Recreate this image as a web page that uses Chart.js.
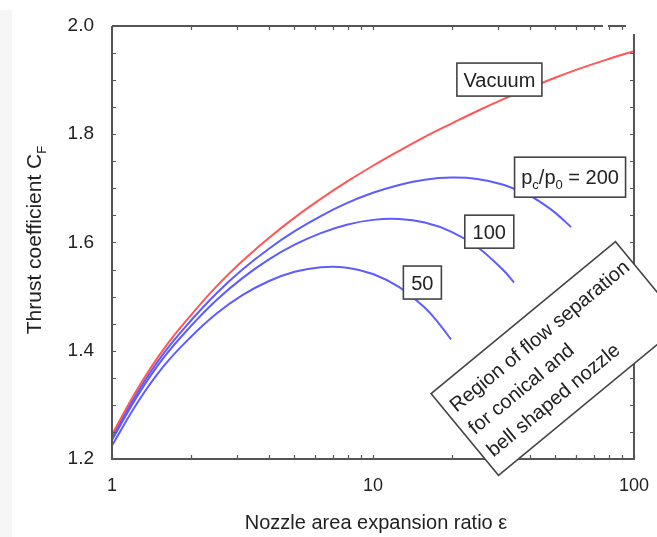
<!DOCTYPE html>
<html>
<head>
<meta charset="utf-8">
<title>Thrust coefficient vs expansion ratio</title>
<script src="https://cdn.jsdelivr.net/npm/chart.js@4.4.1/dist/chart.umd.min.js"></script>
<style>
  html, body { margin: 0; padding: 0; background: #fff; }
  canvas { display: block; }
</style>
</head>
<body>
<canvas id="thrustChart" width="657" height="537"></canvas>
<script>
// expansion ratio / thrust coefficient for each curve
const epsVacuum = [1, 1.26, 1.58, 2, 2.51, 3.16, 3.98, 5.01, 6.31, 7.94, 10, 12.6, 15.8, 20, 25.1, 31.6, 39.8, 50.1, 63.1, 79.4, 100];
const cfVacuum  = [1.245, 1.3315, 1.4035, 1.465, 1.5185, 1.5658, 1.608, 1.646, 1.6805, 1.7123, 1.7418, 1.7694, 1.7953, 1.8198, 1.843, 1.8649, 1.8855, 1.9049, 1.9226, 1.9386, 1.9536];

const eps200 = [1, 1.26, 1.58, 2, 2.51, 3.16, 3.98, 5.01, 6.31, 7.94, 10, 12.6, 15.8, 20, 25.1, 31.6, 39.8, 45, 50.1, 57.4];
const cf200  = [1.24, 1.3252, 1.3956, 1.455, 1.5059, 1.55, 1.5881, 1.6209, 1.6489, 1.6726, 1.6918, 1.7064, 1.7161, 1.72, 1.7174, 1.7068, 1.6865, 1.6708, 1.6543, 1.6285];

const eps100 = [1, 1.26, 1.58, 2, 2.51, 3.16, 3.98, 5.01, 6.31, 7.94, 10, 12.6, 15.8, 20, 25.1, 31.6, 34.7];
const cf100  = [1.235, 1.3189, 1.3877, 1.445, 1.4934, 1.5342, 1.5682, 1.5959, 1.6174, 1.6329, 1.6418, 1.6434, 1.6368, 1.6198, 1.5918, 1.5487, 1.5261];

const eps50 = [1, 1.26, 1.58, 2, 2.51, 3.16, 3.98, 5.01, 6.31, 7.94, 10, 12.6, 15.8, 17.8, 19.9];
const cf50  = [1.225, 1.3063, 1.3719, 1.425, 1.4683, 1.5026, 1.5284, 1.5458, 1.5543, 1.5535, 1.5418, 1.5174, 1.4793, 1.4516, 1.421];

const xTickValues = [1, 10, 100];
const xMinorTicks = [2, 3, 4, 5, 6, 7, 8, 9, 20, 30, 40, 50, 60, 70, 80, 90];
const yTickValues = [1.2, 1.4, 1.6, 1.8, 2.0];
const yMinorTicks = [1.25, 1.3, 1.35, 1.45, 1.5, 1.55, 1.65, 1.7, 1.75, 1.85, 1.9, 1.95];

const FONT = '"Liberation Sans", Arial, Helvetica, sans-serif';

function pts(xs, ys) {
  return xs.map((x, i) => ({ x: x, y: ys[i] }));
}

// boxed curve labels, placed in data coordinates
const curveLabels = [
  { parts: [['Vacuum', 0]], eps: 30.5, cf: 1.901, w: 85, h: 33 },
  { parts: [['p', 0], ['c', 1], ['/p', 0], ['0', 1], [' = 200', 0]], eps: 56.9, cf: 1.7207, w: 111, h: 40 },
  { parts: [['100', 0]], eps: 27.9, cf: 1.620, w: 49, h: 33 },
  { parts: [['50', 0]], eps: 15.46, cf: 1.526, w: 38, h: 33 }
];

function partsWidth(ctx, parts, size) {
  let w = 0;
  parts.forEach(p => {
    ctx.font = (p[1] ? '13px ' : size + 'px ') + FONT;
    w += ctx.measureText(p[0]).width;
  });
  return w;
}

function drawParts(ctx, parts, x, y, size) {
  parts.forEach(p => {
    ctx.font = (p[1] ? '13px ' : size + 'px ') + FONT;
    ctx.fillText(p[0], x, p[1] ? y + 5 : y);
    x += ctx.measureText(p[0]).width;
  });
}

const framePlugin = {
  id: 'frame',
  beforeDraw(chart) {
    const ctx = chart.ctx;
    ctx.save();
    ctx.fillStyle = '#fff';
    ctx.fillRect(0, 0, chart.width, chart.height);
    ctx.fillStyle = '#f6f6f6';
    ctx.fillRect(0, 10, 12, chart.height - 10);
    ctx.restore();
  },
  afterDatasetsDraw(chart) {
    const ctx = chart.ctx;
    const a = chart.chartArea;
    const xs = chart.scales.x, ys = chart.scales.y;
    ctx.save();
    ctx.strokeStyle = '#555';
    ctx.lineWidth = 2;
    ctx.beginPath();
    // left and bottom
    ctx.moveTo(a.left, a.top);
    ctx.lineTo(a.left, a.bottom);
    ctx.lineTo(a.right, a.bottom);
    // right side starts a little below the top
    ctx.lineTo(a.right, a.top + 8);
    // top edge, broken near the corner
    ctx.moveTo(a.left, a.top);
    ctx.lineTo(a.right - 31, a.top);
    ctx.moveTo(a.right - 26, a.top);
    ctx.lineTo(a.right - 8, a.top);
    ctx.stroke();

    ctx.lineWidth = 1.2;
    ctx.beginPath();
    xMinorTicks.concat(xTickValues).forEach(v => {
      const px = Math.round(xs.getPixelForValue(v)) + 0.5;
      ctx.moveTo(px, a.bottom);
      ctx.lineTo(px, a.bottom - 4);
      if (px < a.right - 8) {
        ctx.moveTo(px, a.top);
        ctx.lineTo(px, a.top + 4);
      }
    });
    yMinorTicks.concat(yTickValues).forEach(v => {
      const py = Math.round(ys.getPixelForValue(v)) + 0.5;
      ctx.moveTo(a.left, py);
      ctx.lineTo(a.left + 4, py);
      if (py > a.top + 8) {
        ctx.moveTo(a.right, py);
        ctx.lineTo(a.right - 4, py);
      }
    });
    ctx.stroke();
    ctx.restore();
  },
  afterDraw(chart) {
    const ctx = chart.ctx;
    const xs = chart.scales.x, ys = chart.scales.y;
    ctx.save();
    ctx.fillStyle = '#222';
    ctx.textBaseline = 'alphabetic';
    ctx.textAlign = 'left';

    // boxed labels on the curves
    curveLabels.forEach(l => {
      const cx = xs.getPixelForValue(l.eps);
      const cy = ys.getPixelForValue(l.cf);
      ctx.fillStyle = '#fff';
      ctx.fillRect(cx - l.w / 2, cy - l.h / 2, l.w, l.h);
      ctx.strokeStyle = '#444';
      ctx.lineWidth = 1.6;
      ctx.strokeRect(cx - l.w / 2, cy - l.h / 2, l.w, l.h);
      ctx.fillStyle = '#222';
      const tw = partsWidth(ctx, l.parts, 20);
      drawParts(ctx, l.parts, cx - tw / 2, cy + 7, 20);
    });

    // tilted note for the flow separation region
    ctx.save();
    ctx.translate(557, 358.5);
    ctx.rotate(-39.5 * Math.PI / 180);
    ctx.fillStyle = '#fff';
    ctx.fillRect(-119.5, -53, 239, 106);
    ctx.strokeStyle = '#444';
    ctx.lineWidth = 1.6;
    ctx.strokeRect(-119.5, -53, 239, 106);
    ctx.fillStyle = '#222';
    ctx.font = '20px ' + FONT;
    ['Region of flow separation', 'for conical and', 'bell shaped nozzle'].forEach((t, i) => {
      ctx.fillText(t, -112, -22 + i * 29);
    });
    ctx.restore();

    // axis titles
    ctx.fillStyle = '#222';
    ctx.font = '20px ' + FONT;
    ctx.textAlign = 'center';
    ctx.fillText('Nozzle area expansion ratio \u03b5', 376, 529);

    ctx.save();
    ctx.translate(41, 240);
    ctx.rotate(-Math.PI / 2);
    ctx.textAlign = 'left';
    const yParts = [['Thrust coefficient C', 0], ['F', 1]];
    drawParts(ctx, yParts, -partsWidth(ctx, yParts, 21) / 2, 0, 21);
    ctx.restore();
    ctx.restore();
  }
};

const lineStyle = {
  borderWidth: 2,
  pointRadius: 0,
  fill: false,
  tension: 0.4
};

new Chart(document.getElementById('thrustChart').getContext('2d'), {
  type: 'line',
  data: {
    datasets: [
      Object.assign({ label: 'Vacuum', data: pts(epsVacuum, cfVacuum), borderColor: '#ff5656' }, lineStyle),
      Object.assign({ label: 'pc/p0 = 200', data: pts(eps200, cf200), borderColor: '#5c5cff' }, lineStyle),
      Object.assign({ label: '100', data: pts(eps100, cf100), borderColor: '#5c5cff' }, lineStyle),
      Object.assign({ label: '50', data: pts(eps50, cf50), borderColor: '#5c5cff' }, lineStyle)
    ]
  },
  options: {
    responsive: false,
    animation: false,
    layout: { padding: { top: 26, right: 16, left: 0, bottom: 0 } },
    plugins: {
      legend: { display: false },
      tooltip: { enabled: false }
    },
    scales: {
      x: {
        type: 'logarithmic',
        min: 1,
        max: 100,
        grid: { display: false },
        border: { display: false },
        afterBuildTicks: scale => { scale.ticks = xTickValues.map(v => ({ value: v })); },
        afterFit: scale => { scale.height = 78; },
        ticks: {
          autoSkip: false,
          maxRotation: 0,
          padding: 8,
          color: '#222',
          font: { family: FONT, size: 18 },
          callback: v => String(v)
        }
      },
      y: {
        type: 'linear',
        min: 1.2,
        max: 2.0,
        grid: { display: false },
        border: { display: false },
        afterBuildTicks: scale => { scale.ticks = yTickValues.map(v => ({ value: v })); },
        afterFit: scale => { scale.width = 112; },
        ticks: {
          padding: 10,
          color: '#222',
          font: { family: FONT, size: 19 },
          callback: v => v.toFixed(1)
        }
      }
    }
  },
  plugins: [framePlugin]
});
</script>
</body>
</html>
